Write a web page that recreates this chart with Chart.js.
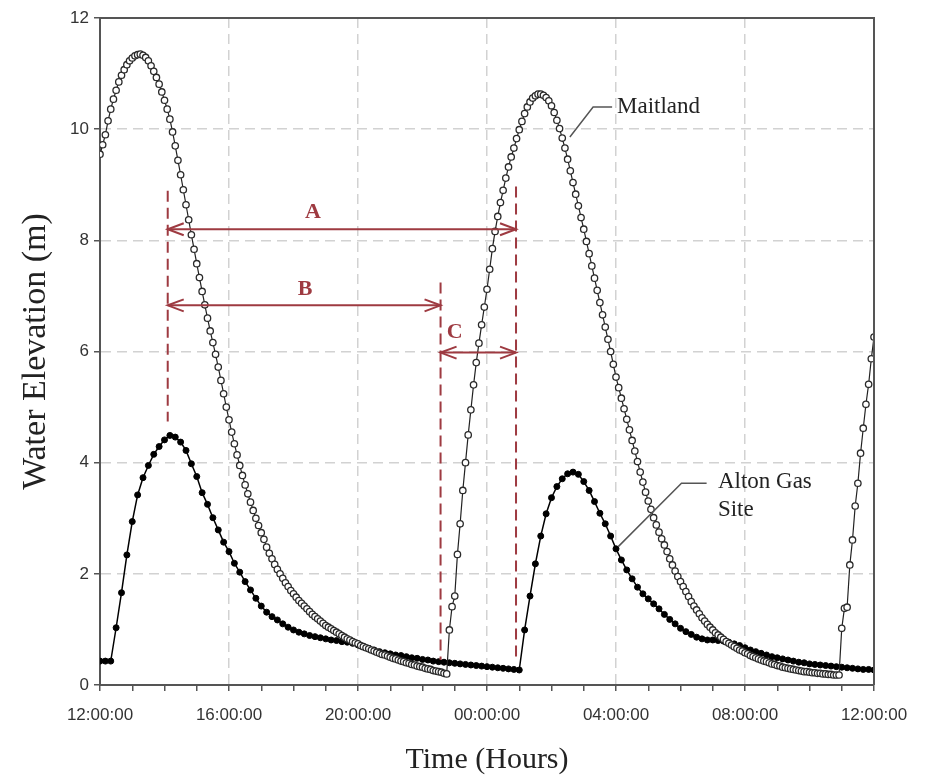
<!DOCTYPE html>
<html>
<head>
<meta charset="utf-8">
<script src="https://cdn.jsdelivr.net/npm/chart.js@4/dist/chart.umd.min.js"></script>
<style>
  html, body { margin: 0; padding: 0; background: #fff; }
  #chart { display: block; }
</style>
</head>
<body>
<canvas id="chart" width="926" height="779"></canvas>
<script>
// time axis: hours after 12:00:00, one label per 4 hours
const xTickLabels = ['12:00:00', '16:00:00', '20:00:00', '00:00:00', '04:00:00', '08:00:00', '12:00:00'];

// Maitland, one reading every 5 minutes from 12:00
const maitlandStepMin = 5;
const maitland = [
  9.55, 9.72, 9.90, 10.15, 10.36, 10.54, 10.70, 10.85, 10.97, 11.07, 11.16, 11.23,
  11.28, 11.32, 11.34, 11.35, 11.33, 11.29, 11.23, 11.14, 11.04, 10.93, 10.81, 10.67,
  10.52, 10.36, 10.18, 9.95, 9.70, 9.44, 9.18, 8.91, 8.64, 8.37, 8.10, 7.84,
  7.58, 7.33, 7.08, 6.84, 6.60, 6.37, 6.16, 5.95, 5.72, 5.48, 5.24, 5.00,
  4.77, 4.55, 4.34, 4.14, 3.95, 3.77, 3.60, 3.44, 3.29, 3.14, 3.00, 2.87,
  2.74, 2.62, 2.48, 2.37, 2.27, 2.17, 2.08, 2.00, 1.92, 1.84, 1.77, 1.70,
  1.64, 1.58, 1.52, 1.47, 1.42, 1.37, 1.32, 1.27, 1.23, 1.19, 1.15, 1.11,
  1.07, 1.04, 1.01, 0.98, 0.95, 0.92, 0.89, 0.86, 0.83, 0.81, 0.78, 0.76,
  0.74, 0.71, 0.69, 0.67, 0.65, 0.63, 0.61, 0.59, 0.57, 0.55, 0.54, 0.52,
  0.50, 0.48, 0.47, 0.45, 0.43, 0.42, 0.40, 0.39, 0.37, 0.36, 0.34, 0.33,
  0.32, 0.30, 0.29, 0.28, 0.26, 0.25, 0.24, 0.23, 0.21, 0.20, 0.99, 1.41,
  1.60, 2.35, 2.90, 3.50, 4.00, 4.50, 4.95, 5.40, 5.80, 6.15, 6.48, 6.80,
  7.12, 7.48, 7.85, 8.16, 8.43, 8.68, 8.90, 9.12, 9.32, 9.50, 9.66, 9.83,
  9.99, 10.14, 10.28, 10.40, 10.49, 10.56, 10.60, 10.63, 10.63, 10.61, 10.57, 10.51,
  10.42, 10.30, 10.16, 10.01, 9.84, 9.66, 9.46, 9.25, 9.04, 8.83, 8.62, 8.41,
  8.20, 7.98, 7.76, 7.54, 7.32, 7.10, 6.88, 6.66, 6.44, 6.22, 6.00, 5.77,
  5.54, 5.35, 5.16, 4.97, 4.78, 4.59, 4.40, 4.21, 4.02, 3.83, 3.65, 3.47,
  3.31, 3.16, 3.01, 2.88, 2.75, 2.63, 2.52, 2.40, 2.27, 2.16, 2.05, 1.95,
  1.86, 1.77, 1.68, 1.59, 1.50, 1.42, 1.35, 1.28, 1.21, 1.15, 1.09, 1.04,
  0.99, 0.94, 0.90, 0.86, 0.82, 0.78, 0.75, 0.72, 0.69, 0.66, 0.63, 0.61,
  0.58, 0.56, 0.53, 0.51, 0.49, 0.47, 0.45, 0.43, 0.42, 0.40, 0.38, 0.37,
  0.35, 0.34, 0.32, 0.31, 0.30, 0.29, 0.28, 0.27, 0.26, 0.25, 0.24, 0.24,
  0.23, 0.22, 0.22, 0.21, 0.21, 0.20, 0.20, 0.19, 0.19, 0.18, 0.18, 0.18,
  1.02, 1.38, 1.40, 2.16, 2.61, 3.22, 3.63, 4.17, 4.62, 5.05, 5.41, 5.87,
  6.26
];

// Alton Gas Site, one reading every 10 minutes from 12:00
const altonStepMin = 10;
const alton = [
  0.43, 0.43, 0.43, 1.03, 1.66, 2.34,
  2.94, 3.42, 3.73, 3.95, 4.15, 4.29,
  4.41, 4.49, 4.46, 4.37, 4.22, 3.98,
  3.75, 3.46, 3.25, 3.01, 2.79, 2.57,
  2.40, 2.19, 2.03, 1.86, 1.71, 1.56,
  1.42, 1.31, 1.23, 1.17, 1.10, 1.04,
  0.99, 0.95, 0.92, 0.89, 0.87, 0.85,
  0.83, 0.81, 0.80, 0.78, 0.77, 0.75,
  0.72, 0.69, 0.66, 0.63, 0.60, 0.58,
  0.56, 0.54, 0.53, 0.51, 0.49, 0.48,
  0.46, 0.45, 0.43, 0.42, 0.41, 0.40,
  0.39, 0.38, 0.37, 0.36, 0.35, 0.34,
  0.33, 0.32, 0.31, 0.30, 0.29, 0.28,
  0.27, 0.99, 1.60, 2.18, 2.68, 3.08,
  3.37, 3.57, 3.71, 3.80, 3.83, 3.79,
  3.66, 3.50, 3.30, 3.09, 2.90, 2.68,
  2.45, 2.25, 2.07, 1.91, 1.76, 1.64,
  1.55, 1.46, 1.37, 1.27, 1.18, 1.10,
  1.02, 0.96, 0.91, 0.86, 0.83, 0.81,
  0.81, 0.80, 0.79, 0.77, 0.74, 0.71,
  0.67, 0.63, 0.60, 0.57, 0.54, 0.51,
  0.49, 0.47, 0.45, 0.43, 0.41, 0.40,
  0.38, 0.37, 0.36, 0.35, 0.34, 0.33,
  0.32, 0.31, 0.30, 0.29, 0.28, 0.28,
  0.27
];

// A / B / C interval markers (hours, metres)
const markerTimes = [2.10, 10.56, 12.90];
const markerTops = [8.89, 7.24, 8.97];
const markerBottoms = [4.74, 0.45, 0.45];
const spans = [
  { label: 'A', from: 2.10, to: 12.90, at: 8.20, labelT: 6.60, labelV: 8.51 },
  { label: 'B', from: 2.10, to: 10.56, at: 6.83, labelT: 6.36, labelV: 7.12 },
  { label: 'C', from: 10.56, to: 12.90, at: 5.98, labelT: 11.00, labelV: 6.34 }
];

// series call-outs
const callouts = [
  { lines: ['Maitland'], path: [[14.57, 9.86], [15.29, 10.40], [15.88, 10.40]], textT: 16.03, textV: 10.40 },
  { lines: ['Alton Gas', 'Site'], path: [[16.07, 2.49], [18.03, 3.63], [18.81, 3.63]], textT: 19.16, textV: 3.66 }
];

const toPoints = (vals, stepMin) => vals.map((v, i) => ({ x: i * stepMin / 60, y: v }));

const RED = '#9e3a41';

const annotations = {
  id: 'annotations',
  afterDatasetsDraw(chart) {
    const { ctx, scales: { x, y }, chartArea: a } = chart;
    const px = t => x.getPixelForValue(t);
    const py = v => y.getPixelForValue(v);
    ctx.save();

    // top / right frame
    ctx.strokeStyle = '#555';
    ctx.lineWidth = 2;
    ctx.beginPath();
    ctx.moveTo(a.left, a.top);
    ctx.lineTo(a.right, a.top);
    ctx.lineTo(a.right, a.bottom);
    ctx.stroke();

    // dashed vertical markers
    ctx.strokeStyle = RED;
    ctx.lineWidth = 2;
    ctx.setLineDash([11, 6]);
    markerTimes.forEach((t, i) => {
      ctx.beginPath();
      ctx.moveTo(px(t), py(markerTops[i]));
      ctx.lineTo(px(t), py(markerBottoms[i]));
      ctx.stroke();
    });
    ctx.setLineDash([]);

    // double arrows
    const head = (xx, yy, dir) => {
      ctx.beginPath();
      ctx.moveTo(xx + dir * 16, yy - 6);
      ctx.lineTo(xx, yy);
      ctx.lineTo(xx + dir * 16, yy + 6);
      ctx.stroke();
    };
    ctx.lineWidth = 2;
    ctx.font = 'bold 22px "Liberation Serif", "Times New Roman", serif';
    ctx.fillStyle = RED;
    ctx.textAlign = 'center';
    ctx.textBaseline = 'middle';
    spans.forEach(s => {
      const x1 = px(s.from), x2 = px(s.to), yy = py(s.at);
      ctx.beginPath();
      ctx.moveTo(x1, yy);
      ctx.lineTo(x2, yy);
      ctx.stroke();
      head(x1, yy, 1);
      head(x2, yy, -1);
      ctx.fillText(s.label, px(s.labelT), py(s.labelV));
    });

    // call-outs
    ctx.strokeStyle = '#555';
    ctx.lineWidth = 1.5;
    ctx.fillStyle = '#222';
    ctx.textAlign = 'left';
    ctx.font = '23px "Liberation Serif", "Times New Roman", serif';
    callouts.forEach(c => {
      ctx.beginPath();
      c.path.forEach(([t, v], i) => i ? ctx.lineTo(px(t), py(v)) : ctx.moveTo(px(t), py(v)));
      ctx.stroke();
      c.lines.forEach((line, i) => ctx.fillText(line, px(c.textT), py(c.textV) + i * 28));
    });
    ctx.restore();
  }
};

const tickFont = { family: '"Liberation Sans", Arial, sans-serif', size: 17 };
const titleFont = { family: '"Liberation Serif", "Times New Roman", serif', size: 30 };

new Chart(document.getElementById('chart'), {
  type: 'line',
  data: {
    datasets: [
      {
        label: 'Maitland',
        data: toPoints(maitland, maitlandStepMin),
        borderColor: '#222',
        borderWidth: 1.2,
        pointRadius: 3.2,
        pointBorderWidth: 1.3,
        pointBorderColor: '#2a2a2a',
        pointBackgroundColor: '#fff',
        tension: 0
      },
      {
        label: 'Alton Gas Site',
        data: toPoints(alton, altonStepMin),
        borderColor: '#000',
        borderWidth: 1.5,
        pointRadius: 3,
        pointBorderWidth: 1,
        pointBorderColor: '#000',
        pointBackgroundColor: '#000',
        tension: 0
      }
    ]
  },
  options: {
    responsive: false,
    animation: false,
    layout: { padding: { top: 18, right: 52, left: 0, bottom: 0 } },
    plugins: { legend: { display: false }, tooltip: { enabled: false } },
    scales: {
      x: {
        type: 'linear',
        min: 0,
        max: 24,
        afterFit: s => { s.height = 94; },
        border: { color: '#555', width: 2, dash: [10, 6] },
        grid: {
          color: c => (c.tick && c.tick.value % 4 === 0 && c.tick.value > 0 && c.tick.value < 24) ? '#d2d2d2' : 'rgba(0,0,0,0)',
          lineWidth: 1.5,
          tickColor: '#555',
          tickLength: 6,
          tickWidth: 1.5
        },
        ticks: {
          stepSize: 1,
          autoSkip: false,
          maxRotation: 0,
          padding: 14,
          color: '#333',
          font: tickFont,
          callback: v => (v % 4 === 0 ? xTickLabels[v / 4] : '')
        },
        title: { display: true, text: 'Time (Hours)', color: '#222', font: titleFont, padding: { top: 0, bottom: 1 } }
      },
      y: {
        min: 0,
        max: 12,
        afterFit: s => { s.width = 100; },
        border: { color: '#555', width: 2, dash: [10, 6] },
        grid: {
          color: c => (c.tick && c.tick.value > 0 && c.tick.value < 12) ? '#d2d2d2' : 'rgba(0,0,0,0)',
          lineWidth: 1.5,
          tickColor: '#555',
          tickLength: 6,
          tickWidth: 1.5
        },
        ticks: { stepSize: 2, padding: 5, color: '#333', font: tickFont },
        title: { display: true, text: 'Water Elevation (m)', color: '#222', font: { family: titleFont.family, size: 34 }, padding: { top: 16, bottom: 0 } }
      }
    }
  },
  plugins: [annotations]
});
</script>
</body>
</html>
